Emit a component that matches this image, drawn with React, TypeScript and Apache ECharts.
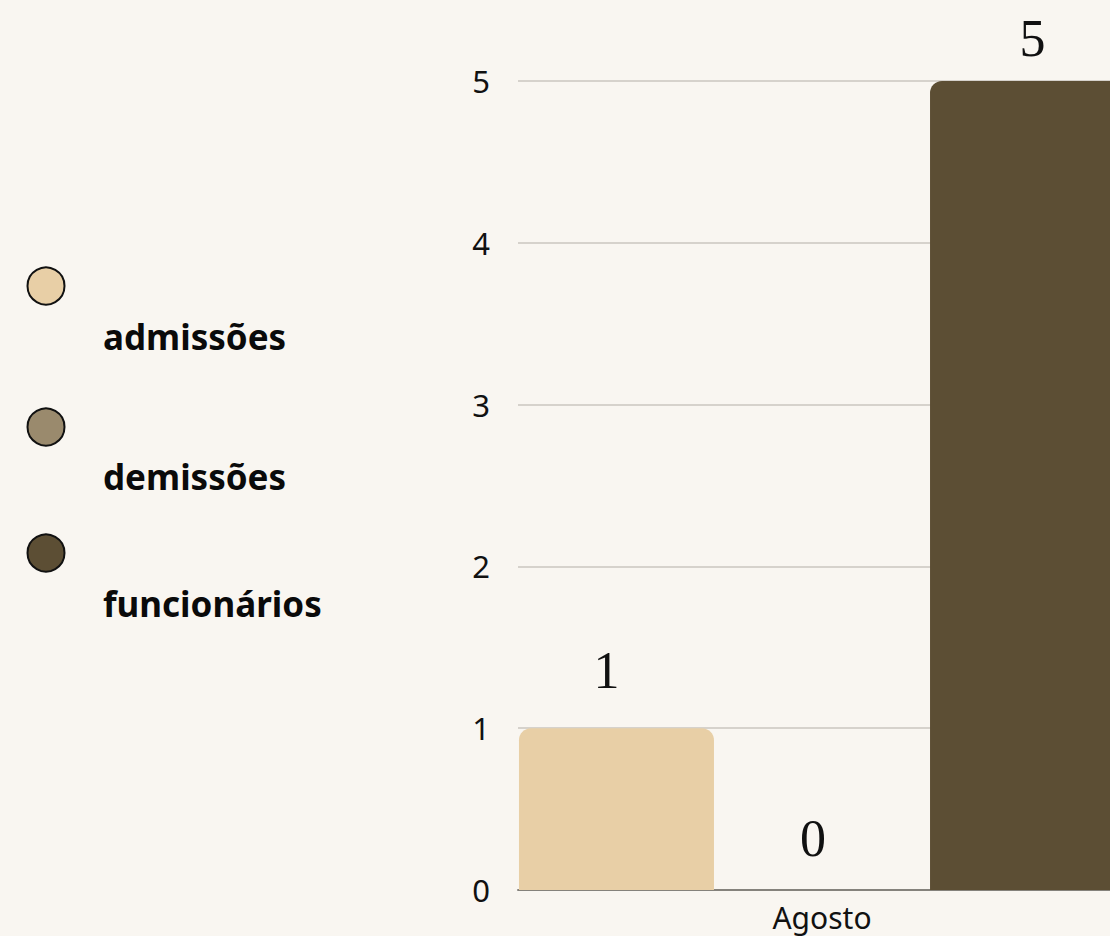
import React, { useEffect, useRef } from "react";
import * as echarts from "echarts";

const categories = ["Agosto"];
const seriesNames = ["admissões", "demissões", "funcionários"];
const admissoes = [1];
const demissoes = [0];
const funcionarios = [5];
const yTicks = [0, 1, 2, 3, 4, 5];

const colors = ["#E8CFA6", "#9A8A6D", "#5C4E34"];

export default function App() {
  const ref = useRef<HTMLDivElement>(null);
  useEffect(() => {
    if (!ref.current) return;
    const chart = echarts.init(ref.current, undefined, { renderer: "svg" });
    const dataSets = [admissoes, demissoes, funcionarios];
    const labelDist = [32, 26, 17];
    const labelOffX = [-10, -9, 5];
    const legendCircleY = [286, 427, 553];
    const legendTextY = [336, 476, 603];
    const graphics: any[] = [];
    seriesNames.forEach((n, i) => {
      graphics.push({
        type: "circle",
        shape: { cx: 46, cy: legendCircleY[i], r: 18.5 },
        style: { fill: colors[i], stroke: "#111", lineWidth: 2 },
      });
      graphics.push({
        type: "text",
        x: 103,
        y: legendTextY[i],
        style: {
          text: n,
          fill: "#0a0a0a",
          font: "bold 35px 'Noto Sans', sans-serif",
          verticalAlign: "middle",
          align: "left",
        },
      });
    });
    chart.setOption({
      animation: false,
      backgroundColor: "#F9F6F1",
      grid: { left: 518, top: 81, width: 608, height: 809, containLabel: false },
      xAxis: {
        type: "category",
        data: categories,
        axisLine: { show: true, lineStyle: { color: "#85827c", width: 2 } },
        axisTick: { show: false },
        axisLabel: {
          color: "#111",
          fontSize: 30,
          fontFamily: "'Noto Sans', sans-serif",
          margin: 12,
        },
      },
      yAxis: {
        type: "value",
        min: yTicks[0],
        max: yTicks[yTicks.length - 1],
        interval: 1,
        axisLine: { show: false },
        axisTick: { show: false },
        axisLabel: {
          color: "#111",
          fontSize: 31,
          fontFamily: "'Noto Sans', sans-serif",
          margin: 28,
        },
        splitLine: { lineStyle: { color: "#cac6bf", width: 1.5 } },
      },
      series: seriesNames.map((n, i) => ({
        name: n,
        type: "bar",
        data: dataSets[i],
        barWidth: 195,
        barGap: "5.4%",
        itemStyle: { color: colors[i], borderRadius: [12, 12, 0, 0] },
        label: {
          show: true,
          position: "top",
          distance: labelDist[i],
          offset: [labelOffX[i], 0],
          color: "#111",
          fontSize: 52,
          fontFamily: "'Liberation Serif', 'DejaVu Serif', serif",
        },
      })),
      graphic: graphics,
    });
    return () => chart.dispose();
  }, []);
  return (
    <div
      style={{
        position: "fixed",
        left: 0,
        top: 0,
        width: 1110,
        height: 936,
        overflow: "hidden",
        background: "#F9F6F1",
      }}
    >
      <div ref={ref} style={{ width: 1130, height: 936 }} />
    </div>
  );
}
